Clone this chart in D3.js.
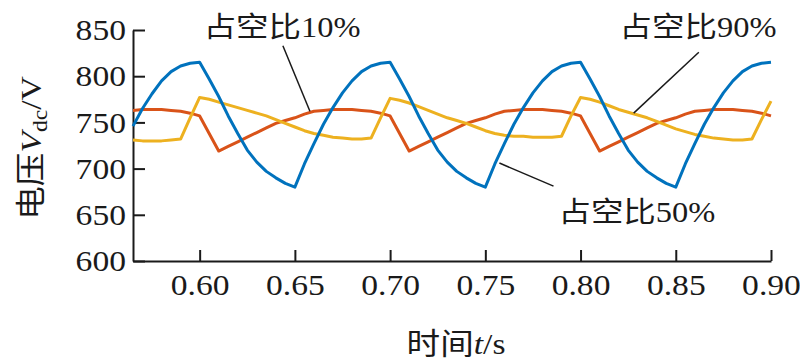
<!DOCTYPE html>
<html>
<head>
<meta charset="utf-8">
<script src="https://cdn.jsdelivr.net/npm/d3@7"></script>
<style>
  body { margin: 0; background: #fff; }
  svg text { font-family: "Liberation Serif", "Noto Sans CJK SC", serif; fill: #1a1a1a; }
</style>
</head>
<body>
<div id="plot"></div>
<script>
// time samples (s)
var times = [0.565, 0.570, 0.575, 0.580, 0.585, 0.590, 0.595,
  0.600, 0.605, 0.610, 0.615, 0.620, 0.625, 0.630, 0.635, 0.640, 0.645,
  0.650, 0.655, 0.660, 0.665, 0.670, 0.675, 0.680, 0.685, 0.690, 0.695,
  0.700, 0.705, 0.710, 0.715, 0.720, 0.725, 0.730, 0.735, 0.740, 0.745,
  0.750, 0.755, 0.760, 0.765, 0.770, 0.775, 0.780, 0.785, 0.790, 0.795,
  0.800, 0.805, 0.810, 0.815, 0.820, 0.825, 0.830, 0.835, 0.840, 0.845,
  0.850, 0.855, 0.860, 0.865, 0.870, 0.875, 0.880, 0.885, 0.890, 0.895,
  0.900];

// duty 50% (blue)
var duty50 = [746, 765, 781, 795, 805, 811, 814,
  815, 797, 778, 757, 738, 720, 707, 697, 690, 684,
  680, 705, 727, 748, 766, 782, 795, 805, 811, 814,
  815, 797, 778, 757, 738, 720, 707, 697, 690, 684,
  680, 705, 727, 748, 766, 782, 795, 805, 811, 814,
  815, 797, 778, 757, 738, 720, 707, 697, 690, 684,
  680, 705, 727, 748, 766, 782, 795, 805, 811, 814,
  815];

// duty 10% (orange)
var duty10 = [763, 764, 764, 764, 763, 762, 760,
  757, 738, 719, 724, 729, 734, 739, 744, 749, 752,
  755, 759, 762, 763, 764, 764, 764, 763, 762, 760,
  757, 738, 719, 724, 729, 734, 739, 744, 749, 752,
  755, 759, 762, 763, 764, 764, 764, 763, 762, 760,
  757, 738, 719, 724, 729, 734, 739, 744, 749, 752,
  755, 759, 762, 763, 764, 764, 764, 763, 762, 760,
  757];

// duty 90% (yellow)
var duty90 = [731, 730, 730, 730, 731, 732, 755,
  777, 775, 772, 769, 766, 763, 760, 757, 753, 749,
  745, 741, 738, 736, 734, 733, 732, 732, 733, 755,
  776, 774, 771, 767, 763, 759, 755, 752, 749, 745,
  741, 738, 736, 735, 735, 734, 734, 734, 735, 757,
  777, 775, 772, 768, 764, 761, 758, 755, 751, 747,
  743, 740, 737, 735, 733, 732, 731, 731, 732, 753,
  773];

var xTicks = [0.60, 0.65, 0.70, 0.75, 0.80, 0.85, 0.90];
var yTicks = [600, 650, 700, 750, 800, 850];

var series = [
  {name: "duty10", values: duty10, color: "#D95319"},
  {name: "duty90", values: duty90, color: "#EDB120"},
  {name: "duty50", values: duty50, color: "#0072BD"}
];

// annotations: label, text anchor point (t, v), leader line from (t1,v1) to (t2,v2)
var notes = [
  {label: "占空比10%", t: 0.6021, v: 842, t1: 0.6437, v1: 833, t2: 0.6579, v2: 762},
  {label: "占空比90%", t: 0.8205, v: 842, t1: 0.8621, v1: 826, t2: 0.8279, v2: 760},
  {label: "占空比50%", t: 0.7884, v: 642, t1: 0.7858, v1: 681, t2: 0.7574, v2: 706}
];

var width = 800, height = 363;
var margin = {top: 30, right: 29, bottom: 102, left: 133};
var stretch = 1.12;

var svg = d3.select("#plot").append("svg")
  .attr("width", width)
  .attr("height", height);

var x = d3.scaleLinear()
  .domain([0.565, 0.90])
  .range([margin.left, width - margin.right]);

var y = d3.scaleLinear()
  .domain([600, 850])
  .range([height - margin.bottom, margin.top]);

var xAxis = d3.axisBottom(x)
  .tickValues(xTicks)
  .tickFormat(d3.format(".2f"))
  .tickSizeInner(-11)
  .tickSizeOuter(0)
  .tickPadding(13);

var yAxis = d3.axisLeft(y)
  .tickValues(yTicks)
  .tickFormat(d3.format("d"))
  .tickSizeInner(-12)
  .tickSizeOuter(0)
  .tickPadding(7);

var gx = svg.append("g")
  .attr("transform", "translate(0," + (height - margin.bottom) + ")")
  .call(xAxis);

var gy = svg.append("g")
  .attr("transform", "translate(" + margin.left + ",0)")
  .call(yAxis);

[gx, gy].forEach(function(g){
  g.select(".domain").attr("stroke", "#1a1a1a").attr("stroke-width", 2);
  g.selectAll(".tick line").attr("stroke", "#1a1a1a").attr("stroke-width", 2);
  g.selectAll(".tick text")
    .attr("font-size", 30)
    .attr("font-family", "Liberation Serif")
    .attr("fill", "#1a1a1a");
});
gx.selectAll(".tick text").attr("transform", "scale(" + stretch + ",1)");
gy.selectAll(".tick text")
  .attr("x", -7 / stretch)
  .attr("transform", "scale(" + stretch + ",1)");

var line = d3.line()
  .x(function(d, i){ return x(times[i]); })
  .y(function(d){ return y(d); });

svg.append("g").selectAll("path.series")
  .data(series)
  .enter().append("path")
  .attr("class", "series")
  .attr("fill", "none")
  .attr("stroke", function(d){ return d.color; })
  .attr("stroke-width", 3)
  .attr("stroke-linejoin", "round")
  .attr("d", function(d){ return line(d.values); });

// leader lines + labels
svg.append("g").selectAll("line")
  .data(notes)
  .enter().append("line")
  .attr("x1", function(d){ return x(d.t1); })
  .attr("y1", function(d){ return y(d.v1); })
  .attr("x2", function(d){ return x(d.t2); })
  .attr("y2", function(d){ return y(d.v2); })
  .attr("stroke", "#1a1a1a")
  .attr("stroke-width", 1.5);

svg.append("g").selectAll("text")
  .data(notes)
  .enter().append("text")
  .attr("transform", function(d){
    return "translate(" + x(d.t) + "," + y(d.v) + ") scale(" + stretch + ",1)";
  })
  .attr("font-size", 29)
  .text(function(d){ return d.label; });

// axis titles
var xt = svg.append("text")
  .attr("transform", "translate(" + 456 + "," + 354 + ") scale(" + stretch + ",1)")
  .attr("text-anchor", "middle")
  .attr("font-size", 30);
xt.append("tspan").text("时间");
xt.append("tspan").attr("font-style", "italic").text("t");
xt.append("tspan").text("/s");

var yt = svg.append("text")
  .attr("transform", "translate(41," + 148 + ") rotate(-90) scale(" + stretch + ",1)")
  .attr("text-anchor", "middle")
  .attr("font-size", 30);
yt.append("tspan").text("电压");
yt.append("tspan").attr("font-style", "italic").text("V");
yt.append("tspan").attr("font-size", 21).attr("dy", 6).text("dc");
yt.append("tspan").attr("dy", -6).text("/V");
</script>
</body>
</html>
